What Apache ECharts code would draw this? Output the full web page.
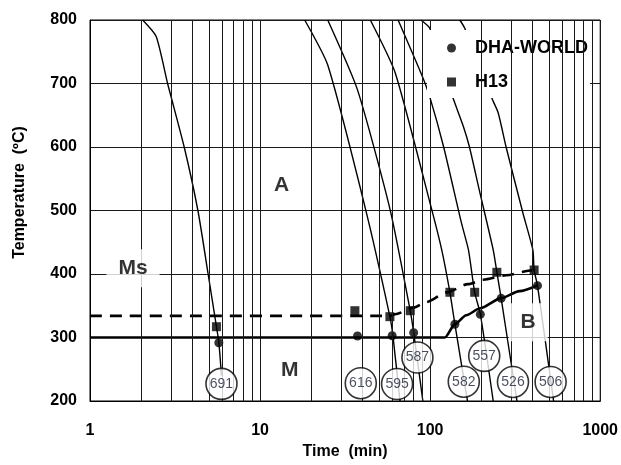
<!DOCTYPE html>
<html>
<head>
<meta charset="utf-8">
<script src="https://cdn.jsdelivr.net/npm/echarts@6/dist/echarts.min.js"></script>
<style>
html,body{margin:0;padding:0;background:#fff;}
#chart{width:621px;height:465px;}
</style>
</head>
<body>
<div id="chart"></div>
<script>
// ---- data (time in min, temperature in °C) ----
const xTicks = [1, 10, 100, 1000];
const yTicks = [200, 300, 400, 500, 600, 700, 800];
const minorX = [2,3,4,5,6,7,8,9,20,30,40,50,60,70,80,90,200,300,400,500,600,700,800,900];

const curve691 = [[2.04,800],[2.45,774],[2.86,700],[3.58,600],[4.31,500],[4.95,400],[5.54,317],[5.72,293],[5.93,240]];
const curve595 = [[18.3,800],[25.0,729],[41.8,501],[58.0,333],[60.4,303],[66.5,200]];
const curve587 = [[25.0,800],[37.4,690],[58.2,501],[76.4,342],[80.0,308],[90.6,200]];
const curve582 = [[44.5,800],[62.3,717],[102.3,501],[117,438],[130.7,371],[139.8,321],[165.8,200]];
const curve557 = [[64.8,800],[89.4,713],[99.5,679],[120.1,600],[152.9,480],[168,438],[182.8,371],[197.3,337],[234.9,200]];
const curve526 = [[88.2,800],[99.5,787],[135.5,679],[157,632],[170.3,600],[194.6,532],[234.9,438],[246.8,403],[261.5,362],[324,200]];
const curve506 = [[149.5,800],[159.8,787],[228.7,679],[251.2,654],[279.6,600],[351.2,496],[401.7,438],[408.8,406],[427.8,382],[532,200]];

const msDha = [[1,300],[122,300],[140,321],[163,335],[197,346],[262,362],[335,373],[427,382]];
const msH13 = [[1,334],[58,334],[62.2,336.5],[80,347],[95.6,356],[125,371],[167,384],[205,391],[280,398],[400,406],[447,408]];

const dhaTime = [5.72, 37.4, 59.8, 80.0, 139.8, 197.3, 261.5, 427.8];
const dhaTemp = [291.8, 302.4, 302.8, 307.6, 320.8, 336.5, 361.7, 381.6];
const h13Time = [5.54, 36.1, 58.0, 76.4, 130.7, 182.8, 246.8, 408.8];
const h13Temp = [317, 342.2, 332.8, 342.2, 371.2, 371.2, 402.7, 406.3];

const bubbleLabels = ['691','616','595','587','582','557','526','506'];
const bubbleTime = [5.93, 39.1, 63.9, 84.2, 157.7, 208, 307, 511];
const bubbleTemp = [227, 228, 226.8, 268.5, 230.4, 271, 230, 230];

const regionLabels = ['Ms','A','M','B'];
const regionTime = [1.79, 13.4, 14.96, 377];
const regionTemp = [409, 540, 248.8, 324];

// ---- chart ----
const FONT = "'Liberation Sans', Arial, sans-serif";
const chart = echarts.init(document.getElementById('chart'), null, {renderer:'canvas'});

const curveStyle = {color:'#000', width:1.4};
function curveSeries(name, data){
  return {name:name, type:'line', data:data, smooth:0.2, symbol:'none', z:2,
    lineStyle:curveStyle, silent:true, animation:false};
}

const option = {
  animation:false,
  backgroundColor:'#fff',
  grid:{left:90, right:16, top:20, bottom:64, show:true, borderColor:'#000', borderWidth:1, containLabel:false},
  legend:{
    data:['DHA-WORLD','H13'], orient:'vertical', left:427, top:30,
    itemWidth:9, itemHeight:9, itemGap:14, padding:[8,2,6,20],
    backgroundColor:'#fff', selectedMode:false,
    textStyle:{fontFamily:FONT, fontSize:18, fontWeight:'bold', color:'#000', lineHeight:20, padding:[0,0,0,14]}
  },
  xAxis:{
    type:'log', logBase:10, min:xTicks[0], max:xTicks[xTicks.length-1],
    name:'Time  (min)', nameLocation:'middle', nameGap:42,
    nameTextStyle:{fontFamily:FONT, fontSize:16, fontWeight:'bold', color:'#000'},
    axisLine:{show:true, lineStyle:{color:'#000', width:1}},
    axisTick:{show:false},
    axisLabel:{fontFamily:FONT, fontSize:16, fontWeight:'bold', color:'#000', margin:22,
      formatter:function(v){ const r=Math.round(v); return xTicks.indexOf(r)>=0 ? String(r) : ''; }},
    splitLine:{show:true, lineStyle:{color:'#1a1a1a', width:1}},
    minorTick:{show:false}, minorSplitLine:{show:false}
  },
  yAxis:{
    type:'value', min:yTicks[0], max:yTicks[yTicks.length-1], interval:100,
    name:'Temperature  (ºC)', nameLocation:'middle', nameGap:62, nameRotate:90,
    nameTextStyle:{fontFamily:FONT, fontSize:16, fontWeight:'bold', color:'#000', padding:[0,0,0,36]},
    axisLine:{show:true, lineStyle:{color:'#000', width:1}},
    axisTick:{show:false},
    axisLabel:{fontFamily:FONT, fontSize:16, fontWeight:'bold', color:'#000', margin:13},
    splitLine:{show:true, lineStyle:{color:'#1a1a1a', width:1}}
  },
  series:[
    {name:'minorGrid', type:'line', data:[], z:1, silent:true, animation:false,
      markLine:{silent:true, symbol:['none','none'], label:{show:false}, animation:false,
        lineStyle:{color:'#1a1a1a', width:1, type:'solid'},
        emphasis:{disabled:true},
        data:minorX.map(v=>({xAxis:v}))}},
    curveSeries('c691', curve691),
    curveSeries('c595', curve595),
    curveSeries('c587', curve587),
    curveSeries('c582', curve582),
    curveSeries('c557', curve557),
    curveSeries('c526', curve526),
    curveSeries('c506', curve506),
    {name:'Ms DHA', type:'line', data:msDha, smooth:0.25, smoothMonotone:'x', symbol:'none', z:3,
      lineStyle:{color:'#000', width:2.6}, silent:true},
    {name:'Ms H13', type:'line', data:msH13, smooth:0.25, smoothMonotone:'x', symbol:'none', z:3,
      lineStyle:{color:'#000', width:2.6, type:[12,8]}, silent:true},
    {name:'DHA-WORLD', type:'scatter', symbol:'circle', symbolSize:9, z:4,
      itemStyle:{color:'#000'},
      data:dhaTime.map((t,i)=>[t, dhaTemp[i]])},
    {name:'H13', type:'scatter', symbol:'rect', symbolSize:9, z:4,
      itemStyle:{color:'#000'},
      data:h13Time.map((t,i)=>[t, h13Temp[i]])},
    {name:'bubbles', type:'scatter', symbol:'circle', symbolSize:31, z:5, silent:true,
      itemStyle:{color:'#fff', borderColor:'#000', borderWidth:1.6},
      label:{show:true, position:'inside', fontFamily:FONT, fontSize:14, color:'#1c2236',
        formatter:function(p){return p.data[2];}},
      data:bubbleTime.map((t,i)=>[t, bubbleTemp[i], bubbleLabels[i]])},
    {name:'regions', type:'scatter', symbol:'rect', symbolSize:1, z:6, silent:true,
      itemStyle:{color:'rgba(0,0,0,0)'},
      label:{show:true, position:'inside', fontFamily:FONT, fontSize:21, fontWeight:'bold', color:'#000',
        backgroundColor:'#fff', padding:[9,12,9,12], lineHeight:20,
        formatter:function(p){return p.data[2];}},
      data:regionTime.map((t,i)=>[t, regionTemp[i], regionLabels[i]])}
  ]
};
chart.setOption(option);
</script>
</body>
</html>
